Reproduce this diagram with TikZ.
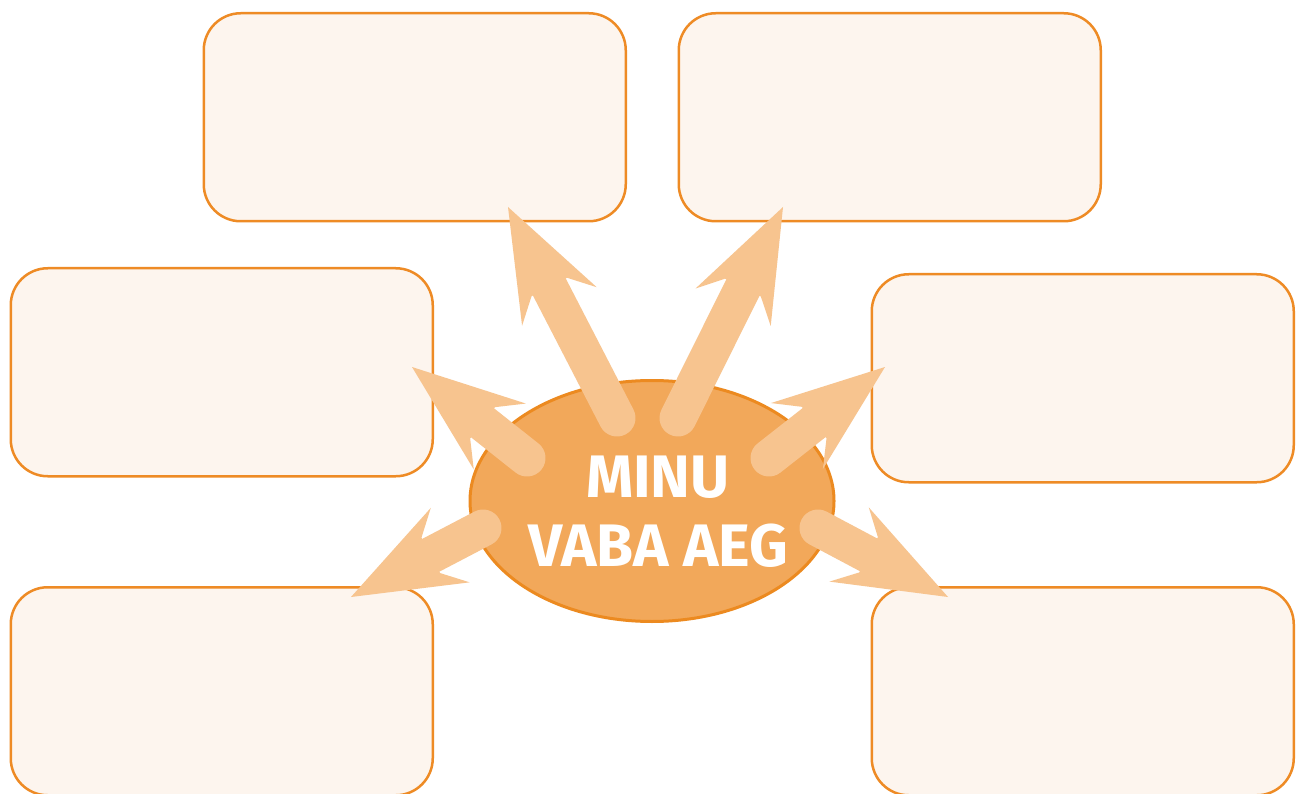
\documentclass[tikz,border=0pt]{standalone}
\usepackage{fontspec}
\usetikzlibrary{calc,shapes.geometric}
\newfontfamily\titlefont{Fira Sans}
\definecolor{boxfill}{HTML}{FDF5EE}
\definecolor{boxline}{HTML}{EE8B25}
\definecolor{ovalfill}{HTML}{F2A85A}
\definecolor{ovalline}{HTML}{EC8A20}
\definecolor{arrowcol}{HTML}{F7C48F}
\newcommand{\bigarrow}[2]{%
  \draw[arrowcol, line width=37pt, line cap=round] (#1) -- ($(#2)!88pt!(#1)$);
  \fill[arrowcol] (#2) -- ($(#2)!119.6pt!20.56:(#1)$) -- ($(#2)!92.2pt!12.53:(#1)$)
     -- ($(#2)!92.2pt!-12.53:(#1)$) -- ($(#2)!119.6pt!-20.56:(#1)$) -- cycle;
}
\begin{document}
\begin{tikzpicture}[x=1pt,y=-1pt,
  infobox/.style={draw=boxline, fill=boxfill, line width=2.5pt, rounded corners=37pt,
     minimum width=422pt, minimum height=208pt, inner sep=0pt, anchor=north west},
  oval/.style={ellipse, draw=ovalline, fill=ovalfill, line width=3pt,
     minimum width=364pt, minimum height=241pt, inner sep=0pt},
  title/.style={text=white, font=\titlefont\bfseries\fontsize{60}{69}\selectfont, align=center}]
\useasboundingbox (0,0) rectangle (1296,794);
\fill[white] (0,0) rectangle (1296,794);
\node[infobox] (tl) at (202.5,12) {};
\node[infobox] (tr) at (677.5,12) {};
\node[infobox] (ml) at (9.5,267) {};
\node[infobox] (mr) at (870.5,273) {};
\node[infobox] (bl) at (9.5,586) {};
\node[infobox] (br) at (870.5,586) {};
\node[oval] (center) at (652,501) {};
\coordinate (s1) at (617,418); \coordinate (t1) at (508,207);
\coordinate (s2) at (678,418); \coordinate (t2) at (783,207);
\coordinate (s3) at (527,458); \coordinate (t3) at (412,367);
\coordinate (s4) at (769,458); \coordinate (t4) at (885,367);
\coordinate (s5) at (483,528); \coordinate (t5) at (351,597);
\coordinate (s6) at (818,528); \coordinate (t6) at (948,597);
\bigarrow{s1}{t1}
\bigarrow{s2}{t2}
\bigarrow{s3}{t3}
\bigarrow{s4}{t4}
\bigarrow{s5}{t5}
\bigarrow{s6}{t6}
\node[title] (label) at (658,512) {MINU\\VABA AEG};
\end{tikzpicture}
\end{document}
